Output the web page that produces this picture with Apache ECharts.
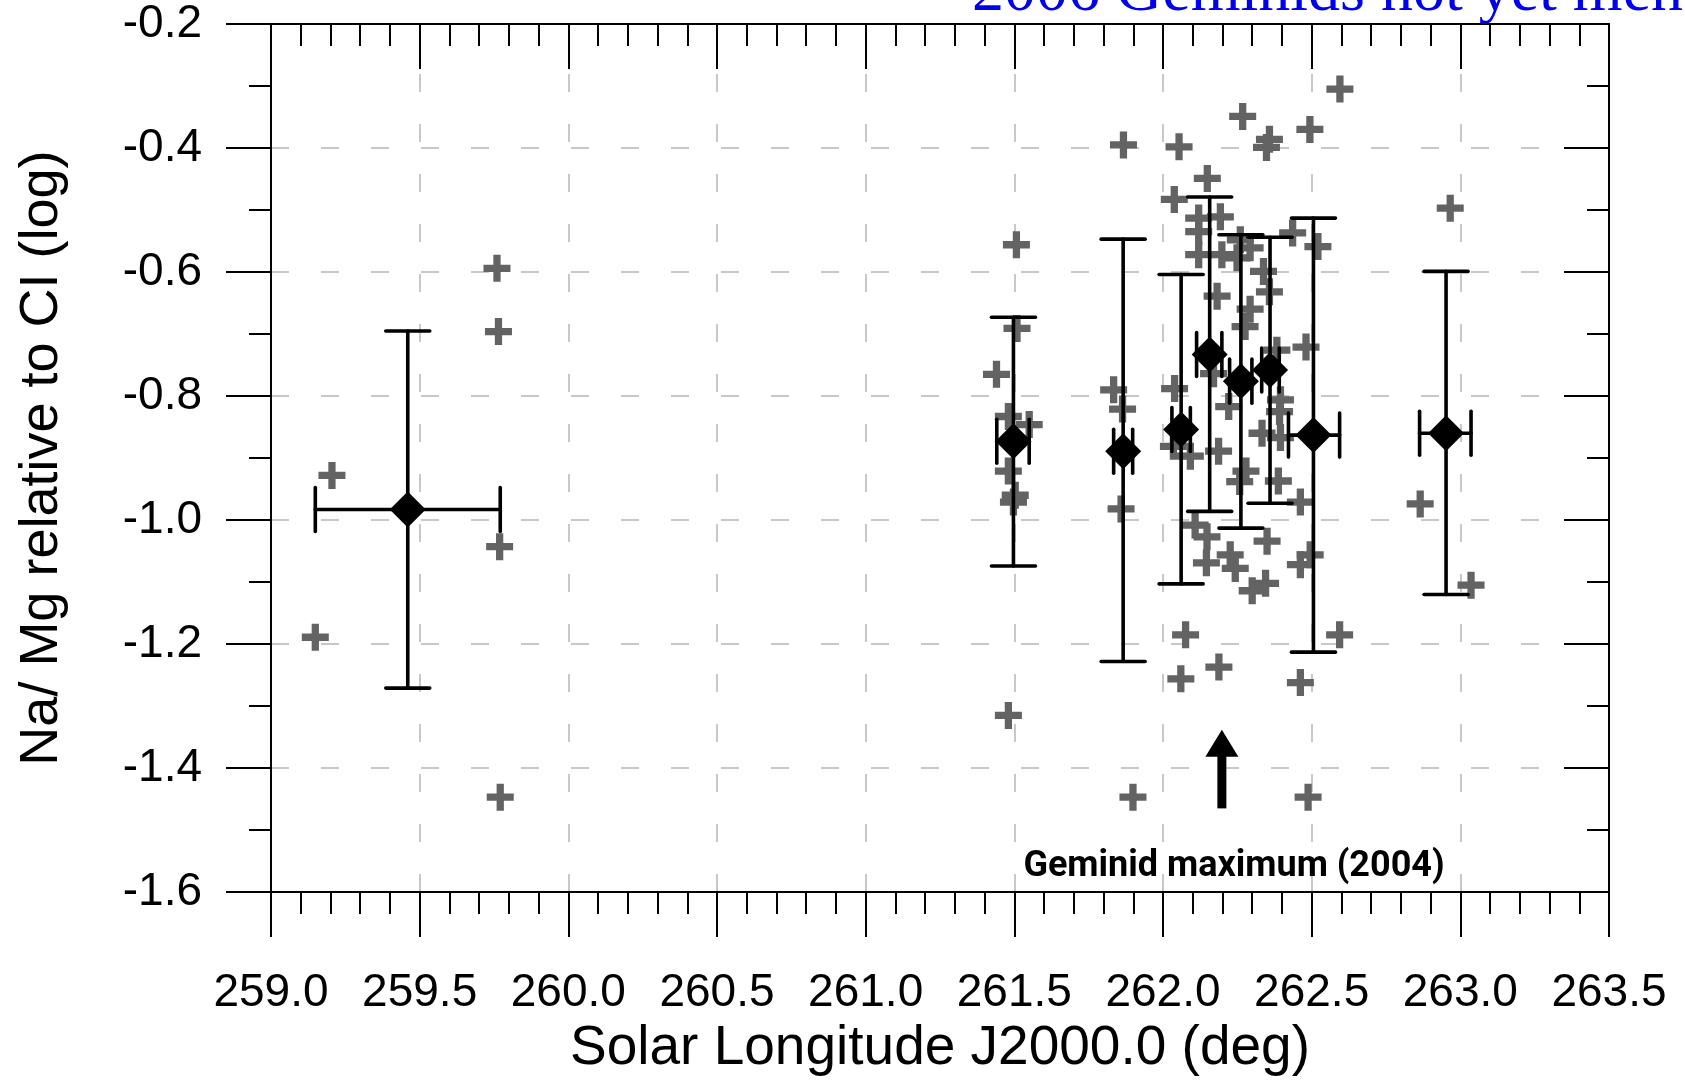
<!DOCTYPE html>
<html><head><meta charset="utf-8">
<script src="https://cdn.jsdelivr.net/npm/echarts@6/dist/echarts.min.js"></script>
<style>html,body{margin:0;padding:0;background:#fff;overflow:hidden}#chart{width:1685px;height:1081px}</style>
</head><body><div id="chart"></div>
<script>
// ---- data ----
const xTickLabels = ['259.0','259.5','260.0','260.5','261.0','261.5','262.0','262.5','263.0','263.5'];
const yTickLabels = ['-1.6','-1.4','-1.2','-1.0','-0.8','-0.6','-0.4','-0.2'];

const meanX  = [259.460, 261.497, 261.866, 262.061, 262.157, 262.262, 262.360, 262.506, 262.952];
const meanY  = [-0.983, -0.873, -0.889, -0.854, -0.733, -0.776, -0.758, -0.863, -0.860];
const yLow   = [-1.271, -1.074, -1.228, -1.103, -0.986, -1.013, -0.973, -1.213, -1.120];
const yHigh  = [-0.695, -0.673, -0.547, -0.604, -0.479, -0.540, -0.544, -0.513, -0.599];
const xLow   = [259.149, 261.441, 261.834, 262.030, 262.113, 262.224, 262.332, 262.422, 262.863];
const xHigh  = [259.771, 261.550, 261.898, 262.092, 262.198, 262.299, 262.391, 262.594, 263.036];

const ptX = [
  259.149, 259.205, 259.760, 259.765, 259.769, 259.771,
  261.440, 261.507, 261.509, 261.480, 261.550, 261.480, 261.503, 261.497, 261.480,
  261.834, 261.864, 261.859, 261.867, 261.899,
  262.054, 262.268, 262.358, 262.348, 262.494, 262.595, 262.149, 262.038, 262.193, 262.120,
  262.120, 262.260, 262.293, 262.120, 262.198, 262.249, 262.436, 262.521, 262.338, 262.358,
  262.182, 262.293, 262.276, 262.383, 262.481, 262.039, 262.170, 262.221, 262.395, 262.392,
  262.333, 262.395, 262.035, 262.092, 262.187, 262.279, 262.258, 262.388, 262.462, 262.108,
  262.148, 262.350, 262.226, 262.495, 262.146, 262.243, 262.462, 262.345, 262.300, 262.076,
  262.594, 262.188, 262.060, 262.462, 262.488,
  262.865, 262.966, 263.036
];
const ptY = [
  -1.189, -0.928, -0.594, -0.696, -1.043, -1.447,
  -0.765, -0.556, -0.691, -0.833, -0.846, -0.921, -0.960, -0.971, -1.315,
  -0.790, -0.821, -0.982, -0.395, -1.447,
  -0.398, -0.349, -0.386, -0.399, -0.370, -0.305, -0.449, -0.483, -0.511, -0.513,
  -0.535, -0.548, -0.561, -0.572, -0.572, -0.577, -0.537, -0.559, -0.599, -0.632,
  -0.639, -0.660, -0.688, -0.726, -0.721, -0.788, -0.764, -0.817, -0.806, -0.825,
  -0.860, -0.867, -0.881, -0.897, -0.889, -0.921, -0.938, -0.937, -0.971, -1.008,
  -1.027, -1.034, -1.056, -1.056, -1.069, -1.078, -1.072, -1.102, -1.114, -1.185,
  -1.185, -1.237, -1.256, -1.262, -1.447,
  -0.974, -0.497, -1.105
];

const arrowX = 262.198, arrowFrom = -1.465, arrowTo = -1.338;
const annotationText = 'Geminid maximum (2004)';
const topNote = '2006 Geminids not yet mentioned';

// ---- chart ----
const chart = echarts.init(document.getElementById('chart'), null, {renderer: 'canvas'});
const SANS = '"Liberation Sans", Arial, sans-serif';
const black = '#000';
const PLUS = 'path://M9.5,0H16.5V9.5H26V16.5H16.5V26H9.5V16.5H0V9.5H9.5Z';

function xFmt(v){ const i = Math.round((v - 259) / 0.5); return xTickLabels[i] || ''; }
function yFmt(v){ const i = Math.round((v + 1.6) / 0.2); return yTickLabels[i] || ''; }

const axisLine = {show: true, onZero: false, lineStyle: {color: black, width: 2}};
const dashed = {show: true, lineStyle: {color: '#c8c8c8', width: 2, type: [18, 32]}};

chart.setOption({
  animation: false,
  backgroundColor: '#fff',
  grid: {left: 271, right: 76, top: 24, bottom: 180, containLabel: false},
  xAxis: [
    {type: 'value', min: 259, max: 263.5, interval: 0.5, position: 'bottom',
     axisLine, axisTick: {show: true, inside: false, length: 45, lineStyle: {color: black, width: 2}},
     minorTick: {show: true, splitNumber: 5, length: 22, lineStyle: {color: black, width: 2}},
     axisLabel: {show: true, formatter: xFmt, fontSize: 46, fontFamily: SANS, color: black, margin: 78},
     splitLine: dashed,
     name: 'Solar Longitude J2000.0 (deg)', nameLocation: 'middle', nameGap: 127,
     nameTextStyle: {fontSize: 55, fontFamily: SANS, color: black}},
    {type: 'value', min: 259, max: 263.5, interval: 0.5, position: 'top',
     axisLine, axisTick: {show: true, inside: true, length: 45, lineStyle: {color: black, width: 2}},
     minorTick: {show: true, splitNumber: 5, length: 22, lineStyle: {color: black, width: 2}},
     axisLabel: {show: false}, splitLine: {show: false}}
  ],
  yAxis: [
    {type: 'value', min: -1.6, max: -0.2, interval: 0.2, position: 'left',
     axisLine, axisTick: {show: true, inside: false, length: 45, lineStyle: {color: black, width: 2}},
     minorTick: {show: true, splitNumber: 2, length: 22, lineStyle: {color: black, width: 2}},
     axisLabel: {show: true, formatter: yFmt, fontSize: 46, fontFamily: SANS, color: black, margin: 69},
     splitLine: dashed,
     name: 'Na/ Mg relative to CI (log)', nameLocation: 'middle', nameGap: 202,
     nameTextStyle: {fontSize: 54, fontFamily: SANS, color: black}},
    {type: 'value', min: -1.6, max: -0.2, interval: 0.2, position: 'right',
     axisLine, axisTick: {show: true, inside: true, length: 45, lineStyle: {color: black, width: 2}},
     minorTick: {show: true, splitNumber: 2, length: 22, lineStyle: {color: black, width: 2}},
     axisLabel: {show: false}, splitLine: {show: false}}
  ],
  graphic: [
    {type: 'text', x: 972, y: -7, z: 10,
     style: {text: topNote, font: '64px "Liberation Serif", "Times New Roman", serif', fill: '#0000ee',
             align: 'left', verticalAlign: 'middle'}},
    {type: 'text', x: 1234, y: 867, z: 10,
     style: {text: annotationText, font: 'bold 36px Roboto, "Liberation Sans", sans-serif', fill: black,
             align: 'center', verticalAlign: 'middle'}}
  ],
  series: [
    {type: 'scatter', name: 'individual', z: 3,
     data: ptX.map((x, i) => [x, ptY[i]]),
     symbol: PLUS, symbolSize: 27, itemStyle: {color: '#636363', opacity: 1}},
    {type: 'custom', name: 'errors', z: 4,
     data: meanX.map((x, i) => [x, meanY[i], xLow[i], xHigh[i], yLow[i], yHigh[i]]),
     encode: {x: [0, 2, 3], y: [1, 4, 5]},
     renderItem: function (params, api) {
       const x = api.value(0), y = api.value(1);
       const pLo = api.coord([x, api.value(4)]), pHi = api.coord([x, api.value(5)]);
       const pL = api.coord([api.value(2), y]), pR = api.coord([api.value(3), y]);
       const c = 22;
       const st = {stroke: black, lineWidth: 3.6, lineCap: 'round', fill: null};
       const L = (x1, y1, x2, y2) => ({type: 'line', shape: {x1, y1, x2, y2}, style: st});
       return {type: 'group', children: [
         L(pLo[0], pLo[1], pHi[0], pHi[1]),
         L(pLo[0] - c, pLo[1], pLo[0] + c, pLo[1]),
         L(pHi[0] - c, pHi[1], pHi[0] + c, pHi[1]),
         L(pL[0], pL[1], pR[0], pR[1]),
         L(pL[0], pL[1] - c, pL[0], pL[1] + c),
         L(pR[0], pR[1] - c, pR[0], pR[1] + c)
       ]};
     }},
    {type: 'scatter', name: 'mean', z: 5,
     data: meanX.map((x, i) => [x, meanY[i]]),
     symbol: 'diamond', symbolSize: 36, itemStyle: {color: black, opacity: 1}},
    {type: 'custom', name: 'arrow', z: 6,
     data: [[arrowX, arrowFrom, arrowTo]],
     encode: {x: [0], y: [1, 2]},
     renderItem: function (params, api) {
       const b = api.coord([api.value(0), api.value(1)]);
       const t = api.coord([api.value(0), api.value(2)]);
       const headH = 27, headW = 33, shaftW = 9;
       return {type: 'group', children: [
         {type: 'rect', shape: {x: b[0] - shaftW / 2, y: t[1] + headH - 1, width: shaftW, height: b[1] - t[1] - headH + 1},
          style: {fill: black}},
         {type: 'polygon', shape: {points: [[t[0], t[1]], [t[0] - headW / 2, t[1] + headH], [t[0] + headW / 2, t[1] + headH]]},
          style: {fill: black}}
       ]};
     }}
  ]
});
</script></body></html>
